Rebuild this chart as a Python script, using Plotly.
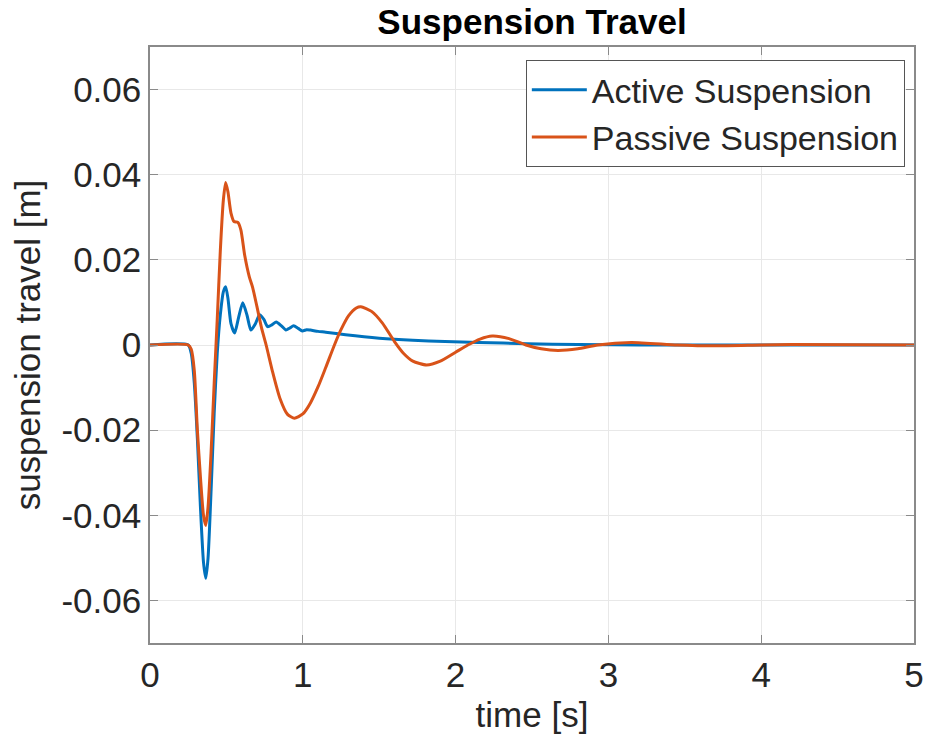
import plotly.graph_objects as go

# Active suspension
t_active = [0, 0.25, 0.27, 0.29, 0.31, 0.33, 0.35, 0.365, 0.38, 0.40, 0.42, 0.44, 0.46, 0.48,
            0.495, 0.51, 0.53, 0.554, 0.58, 0.607, 0.635, 0.66, 0.69, 0.717, 0.745, 0.77,
            0.80, 0.826, 0.86, 0.89, 0.915, 0.94, 0.97, 0.997, 1.025, 1.05, 1.10, 1.15,
            1.28, 1.5, 1.72, 1.93, 2.15, 2.47, 2.8, 3.2, 5.0]
y_active = [0, 0, -0.002, -0.009, -0.022, -0.038, -0.051, -0.0548, -0.050, -0.034, -0.016,
            -0.002, 0.007, 0.0125, 0.0137, 0.011, 0.005, 0.0028, 0.0065, 0.0099, 0.007,
            0.0035, 0.005, 0.0071, 0.006, 0.0043, 0.0048, 0.0054, 0.0045, 0.0035, 0.004,
            0.0045, 0.0039, 0.0033, 0.0036, 0.0035, 0.0032, 0.003, 0.0024, 0.0016, 0.0011,
            0.0008, 0.0006, 0.0003, 0.0001, 0, 0]

# Passive suspension
t_passive = [0, 0.25, 0.27, 0.29, 0.31, 0.33, 0.35, 0.365, 0.38, 0.40, 0.42, 0.44, 0.46, 0.48,
             0.495, 0.51, 0.53, 0.55, 0.575, 0.595, 0.62, 0.65, 0.672, 0.70, 0.73, 0.76,
             0.80, 0.85, 0.90, 0.945, 1.0, 1.05, 1.10, 1.15, 1.207, 1.25, 1.30, 1.35, 1.38,
             1.45, 1.52, 1.60, 1.66, 1.72, 1.81, 1.90, 2.0, 2.08, 2.16, 2.24, 2.35, 2.46,
             2.56, 2.67, 2.8, 2.93, 3.15, 3.45, 3.7, 4.0, 4.2, 5.0]
y_passive = [0, 0, -0.001, -0.006, -0.020, -0.031, -0.040, -0.0424, -0.038, -0.025, -0.009,
             0.006, 0.022, 0.034, 0.0382, 0.036, 0.031, 0.029, 0.0288, 0.027, 0.021, 0.016,
             0.0135, 0.009, 0.004, 0.0, -0.006, -0.0125, -0.0163, -0.0172, -0.0162, -0.0136,
             -0.0098, -0.0053, 0.0, 0.0036, 0.0069, 0.0087, 0.009, 0.0079, 0.0052, 0.0008,
             -0.002, -0.0038, -0.0047, -0.0038, -0.0017, 0.0, 0.0014, 0.0021, 0.0015, 0.0,
             -0.0009, -0.0013, -0.0009, 0.0, 0.0006, 0.0, -0.0002, 0.0, 0.0001, 0]

x_tickvals = [0, 1, 2, 3, 4, 5]
x_ticktext = ["0", "1", "2", "3", "4", "5"]
y_tickvals = [-0.06, -0.04, -0.02, 0, 0.02, 0.04, 0.06]
y_ticktext = ["-0.06", "-0.04", "-0.02", "0", "0.02", "0.04", "0.06"]

FONT = "Liberation Sans, Arial, Helvetica, sans-serif"
TXT = "#262626"
AX = "#8a8a8a"
GRID = "#e8e8e8"
FS = 35

fig = go.Figure()
fig.add_trace(go.Scatter(x=t_active, y=y_active, mode="lines", name="Active Suspension",
                         line=dict(color="#0072BD", width=3, shape="spline", smoothing=0.6)))
fig.add_trace(go.Scatter(x=t_passive, y=y_passive, mode="lines", name="Passive Suspension",
                         line=dict(color="#D95319", width=3, shape="spline", smoothing=0.6)))

fig.update_layout(
    width=930, height=747,
    margin=dict(l=150, r=16, t=47, b=104, autoexpand=False),
    paper_bgcolor="white", plot_bgcolor="white",
    font=dict(family=FONT, color=TXT, size=FS),
    title=dict(text="<b>Suspension Travel</b>", x=532 / 930, xanchor="center",
               y=1 - 22 / 747, yanchor="middle", font=dict(size=FS, color="black", family=FONT)),
    legend=dict(x=0.988, y=0.978, xanchor="right", yanchor="top",
                bgcolor="white", bordercolor="#555555", borderwidth=1,
                font=dict(size=FS - 1, color=TXT, family=FONT), tracegroupgap=0,
                itemwidth=55),
    showlegend=True,
)
fig.update_xaxes(range=[0, 5], tickvals=x_tickvals, ticktext=x_ticktext, automargin=False,
                 showgrid=True, gridcolor=GRID, gridwidth=1, zeroline=False,
                 showline=True, linecolor=AX, linewidth=1.5, mirror="ticks",
                 ticks="inside", ticklen=8, tickcolor=AX,
                 title=dict(text="time [s]", font=dict(size=FS, color=TXT), standoff=10),
                 tickfont=dict(size=FS, color=TXT))
fig.update_yaxes(range=[-0.07, 0.07], tickvals=y_tickvals, ticktext=y_ticktext, automargin=False,
                 showgrid=True, gridcolor=GRID, gridwidth=1, zeroline=False,
                 showline=True, linecolor=AX, linewidth=1.5, mirror="ticks",
                 ticks="inside", ticklen=8, tickcolor=AX,
                 title=dict(text="suspension travel [m]", font=dict(size=FS, color=TXT), standoff=10),
                 tickfont=dict(size=FS, color=TXT))

fig.write_html("out.html", config={"displayModeBar": False},
               post_script="document.body.style.margin='0';document.body.style.padding='0';")
